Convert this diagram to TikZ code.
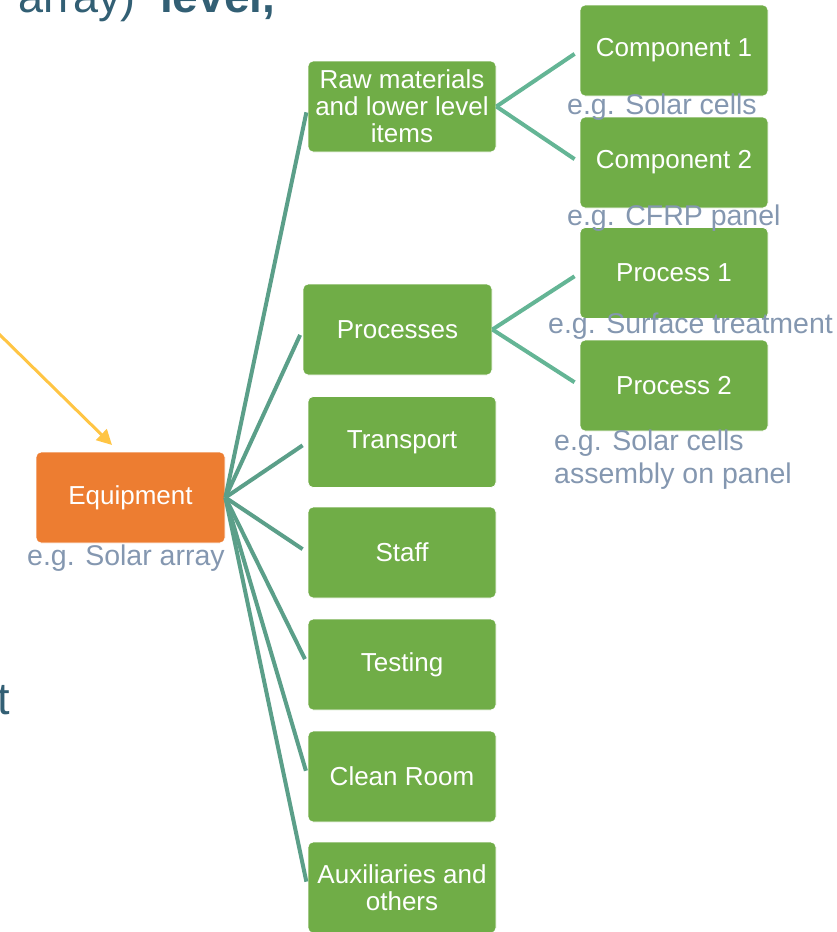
\documentclass[tikz,border=0pt]{standalone}
\usepackage{fontspec}
\setmainfont{Liberation Sans}
\usetikzlibrary{arrows.meta}

\definecolor{eqorange}{HTML}{ED7D31}
\definecolor{boxgreen}{HTML}{70AD47}
\definecolor{fanteal}{HTML}{5B9F89}
\definecolor{subteal}{HTML}{64B595}
\definecolor{notegray}{HTML}{8497B0}
\definecolor{titleblue}{HTML}{325F74}
\definecolor{pointer}{HTML}{FFC544}

\tikzset{
  box/.style={draw=white, line width=0.8pt, rounded corners=5pt,
    minimum width=188pt, minimum height=91pt, inner sep=0pt,
    align=center, text=white, font=\fontsize{26}{27}\selectfont},
  greenbox/.style={box, fill=boxgreen},
  eqbox/.style={box, fill=eqorange, minimum width=189pt},
  note/.style={inner sep=0pt, anchor=base west, text=notegray,
    align=left, font=\fontsize{28.5}{33}\selectfont},
  titletext/.style={inner sep=0pt, anchor=base west, text=titleblue,
    font=\fontsize{45}{50}\selectfont},
  fan/.style={draw=fanteal, line width=4pt, shorten >=6pt},
  subfan/.style={draw=subteal, line width=4pt, shorten >=6pt, line join=miter},
}

\begin{document}
\begin{tikzpicture}[x=1pt, y=-1pt]
\useasboundingbox (0,0) rectangle (836,932);

% heading fragments at the edges
\node[titletext] (ttl1) at (18,12) {array)};
\node[titletext, font=\fontsize{46}{50}\selectfont\bfseries] (ttl2) at (160,12) {level,};
\node[titletext] (ttl3) at (-3,714) {t};

% root item
\node[eqbox] (eq) at (130.5,497.5) {Equipment};

% first level
\node[greenbox] (raw)   at (402,106.5) {Raw materials\\and lower level\\items};
\node[greenbox, minimum width=189pt] (proc) at (397.5,329.5) {Processes};
\node[greenbox] (trans) at (402,442) {Transport};
\node[greenbox] (staff) at (402,552.5) {Staff};
\node[greenbox] (test)  at (402,664.5) {Testing};
\node[greenbox] (clean) at (402,776.5) {Clean Room};
\node[greenbox] (aux)   at (402,887.5) {Auxiliaries and\\others};

% second level
\node[greenbox] (c1) at (674,50.5)  {Component 1};
\node[greenbox] (c2) at (674,162.5) {Component 2};
\node[greenbox] (p1) at (674,273)   {Process 1};
\node[greenbox] (p2) at (674,385.5) {Process 2};

% connectors from the root
\foreach \t in {raw,proc,trans,staff,test,clean,aux}
  \draw[fan] (eq.east) -- (\t.west);

% connectors to the second level
\draw[subfan] (raw.east) -- (c1.west);
\draw[subfan] (raw.east) -- (c2.west);
\draw[subfan] (proc.east) -- (p1.west);
\draw[subfan] (proc.east) -- (p2.west);

% pointer arrow
\coordinate (ptrstart) at (-2,333);
\coordinate (ptrend) at (112,445);
\draw[pointer, line width=3pt, -{Triangle[length=15pt,width=15pt]}] (ptrstart) -- (ptrend);

% examples
\node[note] (n0) at (27,565)  {e.g. Solar array};
\node[note] (n1) at (567,114) {e.g. Solar cells};
\node[note] (n2) at (567,225) {e.g. CFRP panel};
\node[note] (n3) at (548,333) {e.g. Surface treatment};
\node[note] (n4) at (554,483) {e.g. Solar cells\\assembly on panel};
\end{tikzpicture}
\end{document}
